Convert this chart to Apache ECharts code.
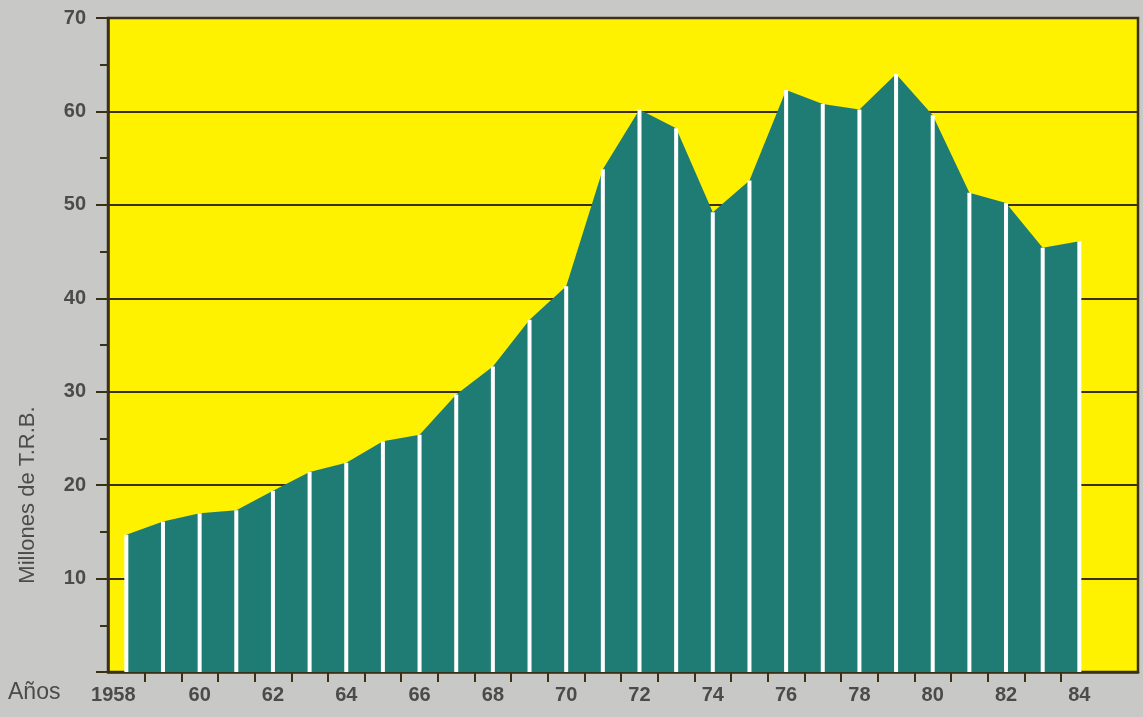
<!DOCTYPE html>
<html>
<head>
<meta charset="utf-8">
<script src="https://cdn.jsdelivr.net/npm/echarts@6/dist/echarts.min.js"></script>
<style>
html,body{margin:0;padding:0;background:#c8c8c7;}
#chart{width:1143px;height:717px;}
</style>
</head>
<body>
<div id="chart"></div>
<script>
// Years and tonnage (millions of T.R.B.)
const years = [1958,1959,1960,1961,1962,1963,1964,1965,1966,1967,1968,1969,1970,1971,1972,1973,1974,1975,1976,1977,1978,1979,1980,1981,1982,1983,1984];
const tonnage = [14.7,16.1,17.0,17.3,19.4,21.4,22.4,24.7,25.4,29.7,32.7,37.7,41.3,53.8,60.2,58.2,49.2,52.6,62.3,60.8,60.2,64.0,59.6,51.3,50.2,45.4,46.1];
const xLabelYears = [1958,1960,1962,1964,1966,1968,1970,1972,1974,1976,1978,1980,1982,1984];
const xTickYears = [1958.5,1959.5,1960.5,1961.5,1962.5,1963.5,1964.5,1965.5,1966.5,1967.5,1968.5,1969.5,1970.5,1971.5,1972.5,1973.5,1974.5,1975.5,1976.5,1977.5,1978.5,1979.5,1980.5,1981.5,1982.5,1983.5];
const yTitle = 'Millones de T.R.B.';
const xTitle = 'Años';

const dark = '#3a3018';
const txt = '#4b4b4b';
const font = 'Liberation Sans, Arial, sans-serif';
const pairs = years.map((y, i) => [y, tonnage[i]]);

const chart = echarts.init(document.getElementById('chart'));
chart.setOption({
  backgroundColor: '#c8c8c7',
  animation: false,
  grid: {
    left: 108, top: 18, right: 5, bottom: 45,
    show: true, backgroundColor: '#fff200', borderColor: dark, borderWidth: 2.5
  },
  xAxis: {
    type: 'value', min: 1957.5, max: 1985.6,
    splitLine: { show: false },
    axisLine: { show: true, lineStyle: { color: dark, width: 2.5 } },
    axisTick: { show: true, customValues: xTickYears, length: 10, lineStyle: { color: dark, width: 2 } },
    axisLabel: {
      customValues: xLabelYears, margin: 13,
      color: txt, fontSize: 20, fontWeight: 'bold', fontFamily: font,
      formatter: v => v === 1958 ? '{f|1958}' : String(v).slice(2),
      rich: { f: { padding: [0, 26, 0, 0], color: txt, fontSize: 20, fontWeight: 'bold', fontFamily: font } }
    }
  },
  yAxis: {
    type: 'value', min: 0, max: 70, interval: 10,
    axisLine: { show: true, lineStyle: { color: dark, width: 2.5 } },
    axisTick: { show: true, length: 12, lineStyle: { color: dark, width: 2 } },
    minorTick: { show: true, splitNumber: 2, length: 8, lineStyle: { color: dark, width: 2 } },
    splitLine: { show: true, lineStyle: { color: dark, width: 2 } },
    axisLabel: {
      margin: 22, color: txt, fontSize: 20, fontWeight: 'bold', fontFamily: font,
      formatter: v => v === 0 ? '' : String(v)
    }
  },
  series: [
    {
      type: 'line', data: pairs, showSymbol: false, symbol: 'none',
      lineStyle: { width: 0 },
      areaStyle: { color: '#1f7c74', opacity: 1 },
      z: 3
    },
    {
      type: 'bar', data: pairs, barWidth: 4,
      itemStyle: { color: '#ffffff' },
      z: 4
    }
  ],
  graphic: [
    {
      type: 'text', left: 8, top: 681,
      style: { text: xTitle, fill: txt, fontSize: 23, fontFamily: font }
    },
    {
      type: 'text', x: 28, y: 495, rotation: Math.PI / 2,
      style: { text: yTitle, fill: txt, fontSize: 22, fontFamily: font, align: 'center', verticalAlign: 'middle' }
    }
  ]
});
</script>
</body>
</html>
